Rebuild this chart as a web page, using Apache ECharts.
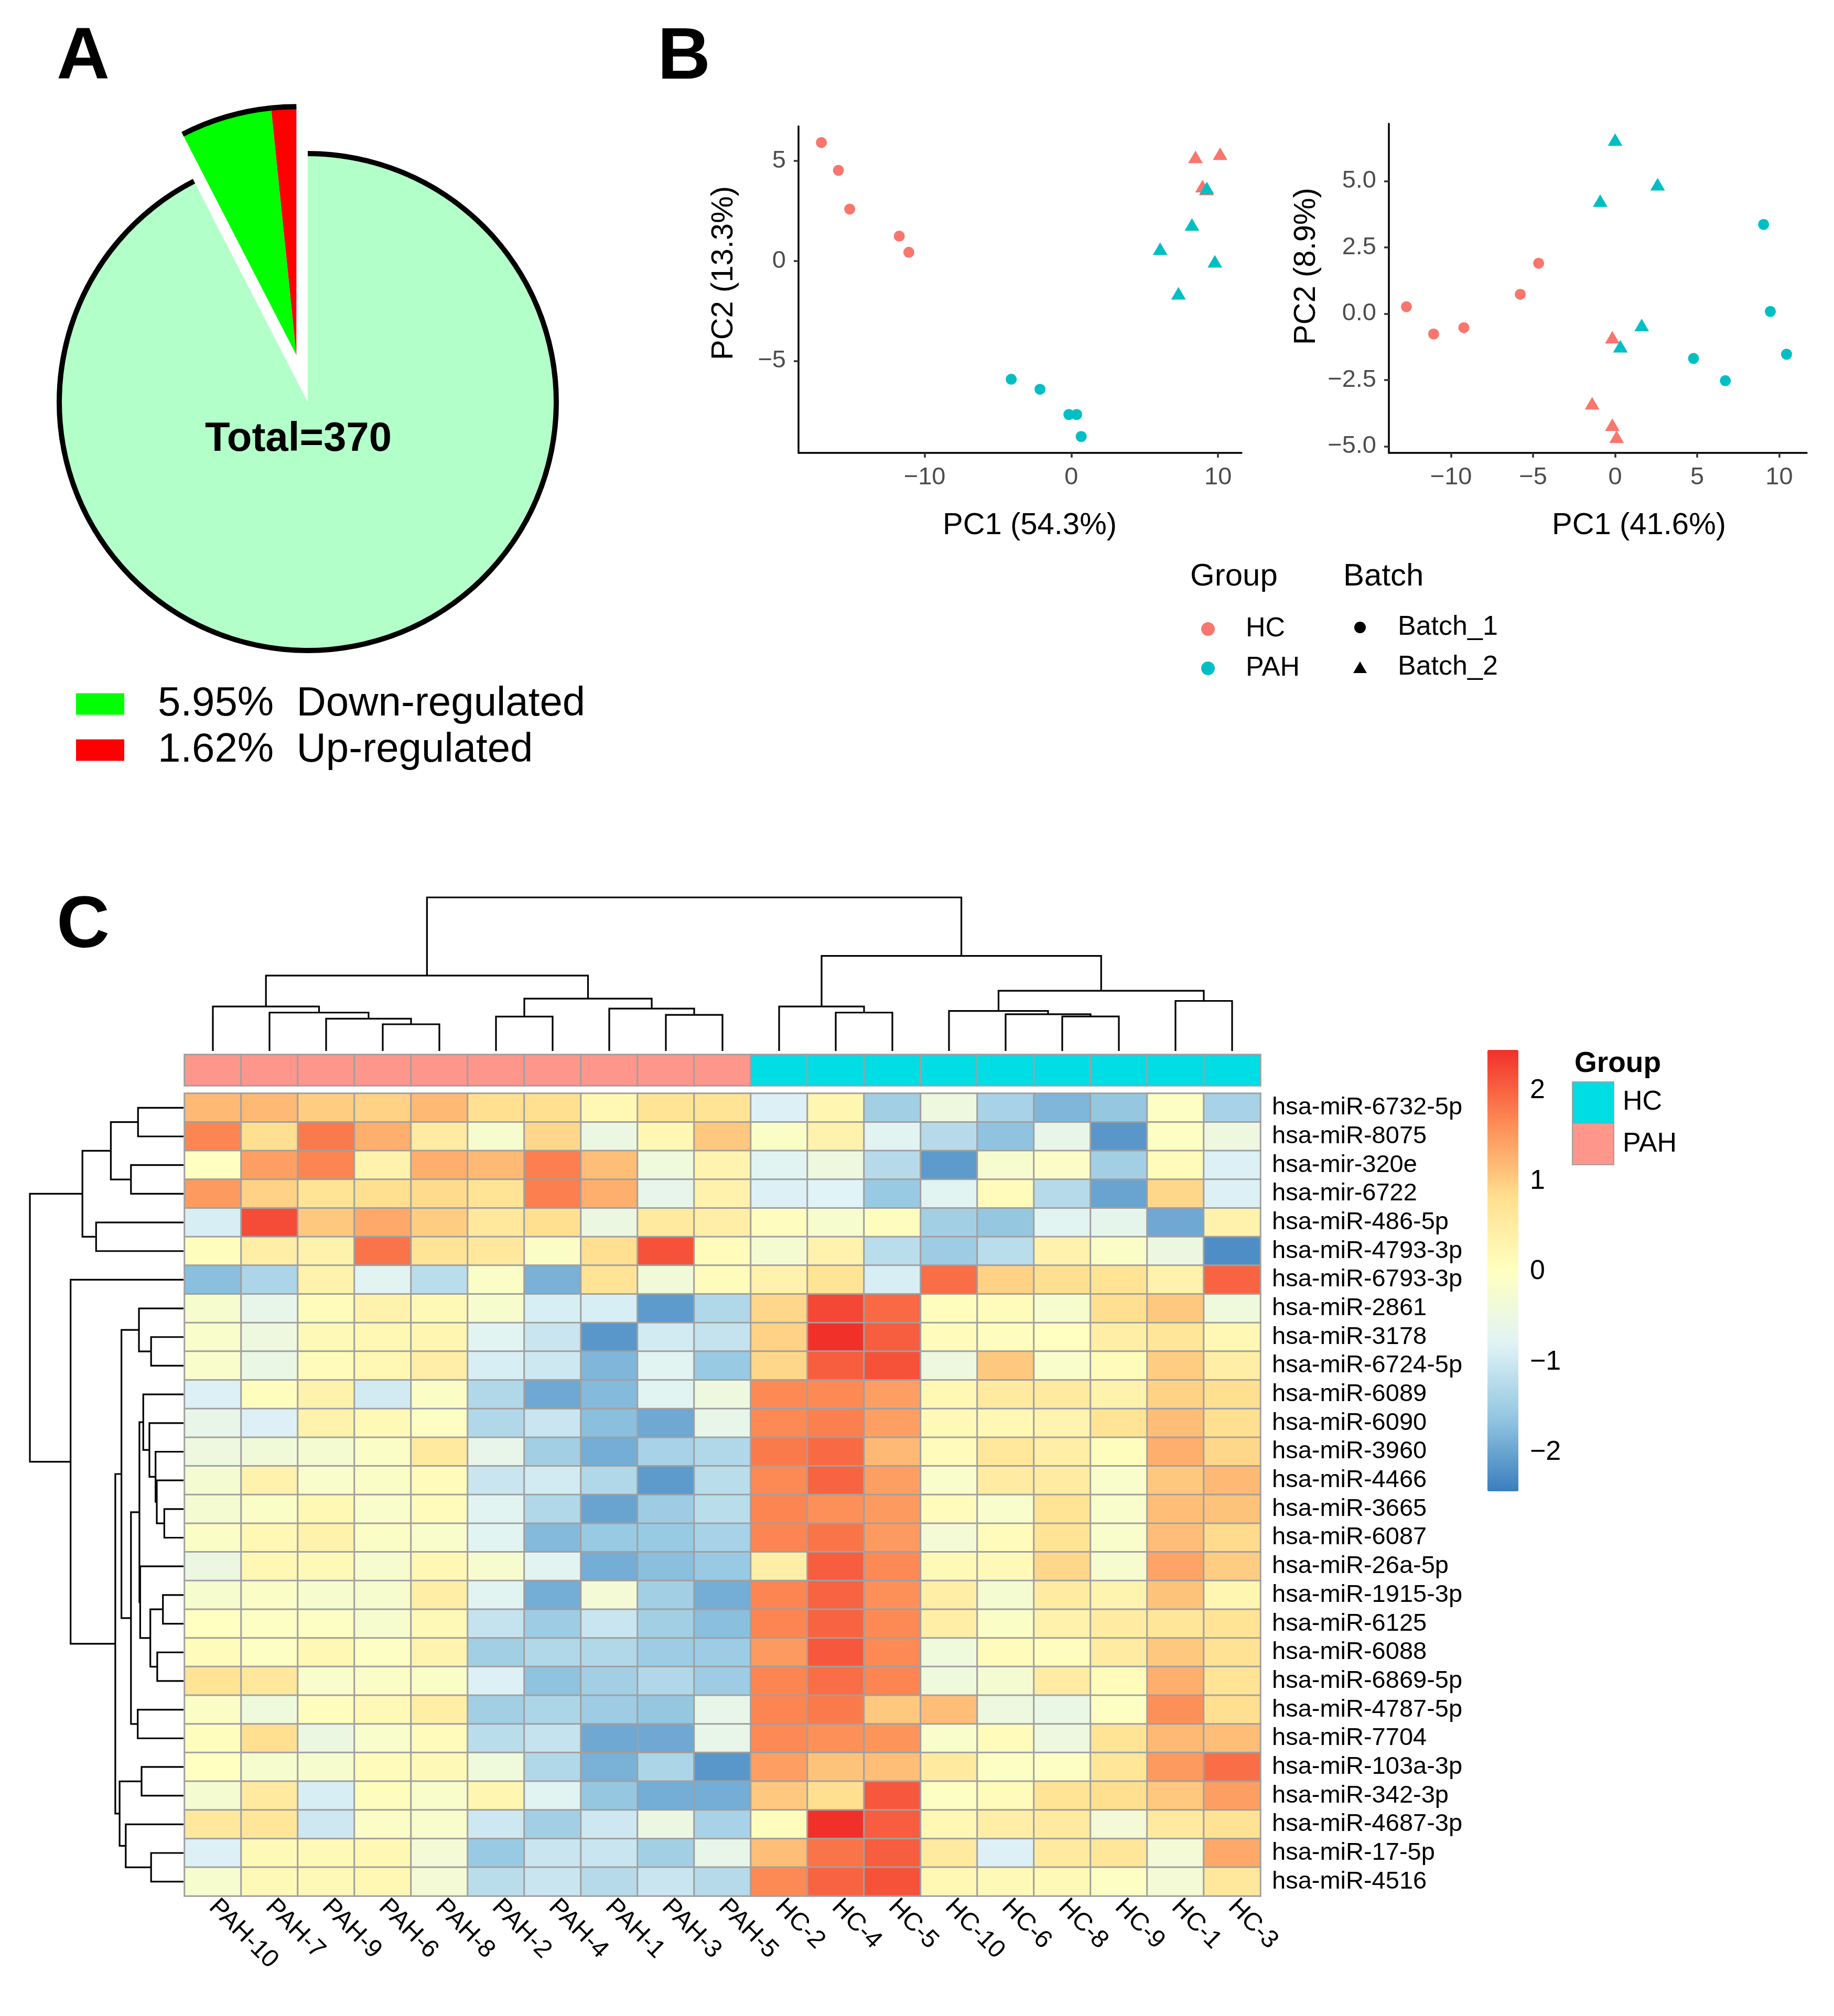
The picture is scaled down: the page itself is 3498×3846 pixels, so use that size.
<!DOCTYPE html>
<html><head><meta charset="utf-8">
<script src="https://cdn.jsdelivr.net/npm/echarts@6/dist/echarts.min.js"></script>
<style>html,body{margin:0;padding:0;background:#fff}#c{width:3498px;height:3846px}</style>
</head><body><div id="c"></div>
<script>
const FONT = "'Liberation Sans', Arial, Helvetica, sans-serif";

// ---------- Panel A data ----------
const pieNames = ['Unchanged', 'Down-regulated', 'Up-regulated'];
const pieCounts = [342, 22, 6];
const pieColors = ['#B3FFC9', '#00FF00', '#FF0000'];

// ---------- Panel B data (PCA) ----------
const pcaA_HC_b1 = [[-17.04,5.92],[-15.88,4.53],[-15.11,2.59],[-11.73,1.24],[-11.08,0.43]];
const pcaA_HC_b2 = [[8.46,5.20],[10.14,5.36],[8.94,3.74],[9.2,3.6]];
const pcaA_PAH_b1 = [[-4.10,-5.92],[-2.14,-6.42],[-0.17,-7.68],[0.36,-7.68],[0.67,-8.78]];
const pcaA_PAH_b2 = [[9.23,3.65],[8.22,1.82],[6.05,0.61],[9.78,-0.02],[7.30,-1.62]];
const pcaB_HC_b1 = [[-12.72,0.26],[-11.06,-0.77],[-9.22,-0.53],[-5.78,0.73],[-4.66,1.90]];
const pcaB_HC_b2 = [[-0.17,-0.89],[-1.40,-3.38],[-0.17,-4.19],[0.09,-4.64]];
const pcaB_PAH_b1 = [[9.05,3.36],[9.46,0.08],[4.78,-1.69],[6.72,-2.53],[10.45,-1.53]];
const pcaB_PAH_b2 = [[0.0,6.56],[2.59,4.88],[-0.91,4.26],[1.62,-0.43],[0.32,-1.23]];
const pcaA_xTicks = [-10, 0, 10];
const pcaA_yTicks = [-5, 0, 5];
const pcaB_xTicks = [-10, -5, 0, 5, 10];
const pcaB_yTicks = [-5, -2.5, 0, 2.5, 5];
const pcaA_titles = ['PC1 (54.3%)', 'PC2 (13.3%)'];
const pcaB_titles = ['PC1 (41.6%)', 'PC2 (8.9%)'];

// ---------- Panel C data (heatmap) ----------
const colNames = ['PAH-10','PAH-7','PAH-9','PAH-6','PAH-8','PAH-2','PAH-4','PAH-1','PAH-3','PAH-5',
                  'HC-2','HC-4','HC-5','HC-10','HC-6','HC-8','HC-9','HC-1','HC-3'];
const rowNames = ['hsa-miR-6732-5p','hsa-miR-8075','hsa-mir-320e','hsa-mir-6722','hsa-miR-486-5p',
  'hsa-miR-4793-3p','hsa-miR-6793-3p','hsa-miR-2861','hsa-miR-3178','hsa-miR-6724-5p','hsa-miR-6089',
  'hsa-miR-6090','hsa-miR-3960','hsa-miR-4466','hsa-miR-3665','hsa-miR-6087','hsa-miR-26a-5p',
  'hsa-miR-1915-3p','hsa-miR-6125','hsa-miR-6088','hsa-miR-6869-5p','hsa-miR-4787-5p','hsa-miR-7704',
  'hsa-miR-103a-3p','hsa-miR-342-3p','hsa-miR-4687-3p','hsa-miR-17-5p','hsa-miR-4516'];
const heatValues = [
 [1.2,1.2,1.0,0.95,1.2,0.8,0.8,0.2,0.7,0.7, -0.85,0.25,-1.45,-0.45,-1.4,-1.8,-1.6,-0.05,-1.4],
 [1.7,0.8,1.8,1.3,0.5,-0.2,0.9,-0.5,0.2,1.05, -0.1,0.35,-0.75,-1.25,-1.65,-0.6,-2.15,-0.05,-0.45],
 [0.0,1.45,1.7,0.35,1.3,1.2,1.75,1.15,-0.4,0.3, -0.75,-0.45,-1.25,-2.1,-0.2,-0.1,-1.45,0.1,-0.85],
 [1.5,0.95,0.7,0.8,0.85,0.7,1.75,1.3,-0.6,0.35, -0.85,-0.8,-1.55,-0.75,0.1,-1.25,-2.0,0.9,-0.85],
 [-0.9,2.2,1.05,1.35,1.0,0.6,0.8,-0.5,0.55,0.45, 0.05,-0.2,0.05,-1.45,-1.6,-0.75,-0.65,-1.95,0.35],
 [0.05,0.45,0.35,1.85,0.7,0.6,-0.1,0.8,2.15,0.1, -0.25,0.35,-1.2,-1.5,-1.2,0.35,-0.1,-0.5,-2.25],
 [-1.7,-1.35,0.35,-0.75,-1.2,-0.1,-1.85,0.7,-0.35,0.1, 0.35,0.7,-0.9,1.9,0.95,0.8,0.7,0.35,2.0],
 [-0.2,-0.6,0.1,0.35,0.15,-0.2,-0.9,-0.9,-2.1,-1.3, 0.9,2.25,1.95,0.05,0.1,-0.2,0.8,1.05,-0.4],
 [-0.15,-0.45,0.15,0.2,0.25,-0.75,-1.05,-2.15,-0.95,-1.1, 0.95,2.45,2.05,0.1,0.05,0.0,0.45,0.65,0.2],
 [-0.15,-0.55,0.1,0.2,0.45,-0.9,-1.0,-1.8,-0.75,-1.55, 0.9,2.05,2.15,-0.45,1.05,-0.15,0.1,1.0,0.45],
 [-0.85,0.05,0.35,-0.95,-0.1,-1.3,-1.95,-1.75,-0.75,-0.45, 1.65,1.65,1.45,0.2,0.55,0.55,0.35,0.95,0.8],
 [-0.6,-0.85,0.35,0.15,-0.05,-1.3,-1.05,-1.7,-1.95,-0.6, 1.65,1.75,1.45,0.15,0.2,0.3,0.7,1.15,0.8],
 [-0.45,-0.35,-0.25,-0.1,0.55,-0.6,-1.45,-1.9,-1.4,-1.3, 1.8,1.95,1.2,0.1,0.6,0.45,0.05,1.3,0.9],
 [-0.25,0.35,-0.15,-0.1,0.1,-1.05,-0.95,-1.3,-2.1,-1.2, 1.65,2.0,1.45,-0.15,0.5,0.5,-0.15,1.05,1.2],
 [-0.25,-0.1,0.2,-0.15,0.1,-0.75,-1.3,-2.0,-1.5,-1.2, 1.7,1.6,1.5,0.1,-0.15,0.7,-0.15,1.15,1.1],
 [-0.1,0.2,0.35,-0.1,-0.15,-0.75,-1.75,-1.55,-1.55,-1.4, 1.7,1.85,1.5,-0.3,0.1,0.7,-0.15,1.15,0.85],
 [-0.5,0.2,0.15,-0.2,0.2,-0.2,-0.75,-1.9,-1.7,-1.55, 0.45,2.05,1.65,0.15,0.15,0.9,-0.2,1.4,1.0],
 [-0.2,-0.1,-0.2,-0.2,0.45,-0.75,-1.9,-0.3,-1.45,-1.9, 1.7,2.0,1.6,0.45,-0.25,0.5,0.3,1.1,0.25],
 [0.0,-0.05,-0.05,-0.2,0.15,-1.1,-1.5,-1.05,-1.45,-1.7, 1.7,2.0,1.65,0.45,-0.1,0.35,0.5,0.65,0.7],
 [0.1,-0.05,0.2,-0.05,0.3,-1.45,-1.3,-1.3,-1.5,-1.5, 1.5,2.1,1.65,-0.4,0.1,0.05,0.5,1.05,0.75],
 [0.7,0.6,-0.15,-0.1,-0.1,-0.85,-1.65,-1.45,-1.3,-1.5, 1.7,1.9,1.7,-0.4,-0.25,0.5,0.1,1.3,0.7],
 [-0.1,-0.4,0.05,0.15,0.45,-1.45,-1.35,-1.5,-1.6,-0.6, 1.7,1.8,1.05,1.15,-0.45,-0.55,-0.05,1.6,0.8],
 [0.05,0.8,-0.5,-0.15,0.1,-1.2,-1.1,-1.95,-1.95,-0.6, 1.65,1.6,1.55,-0.15,0.1,-0.45,0.7,1.2,1.15],
 [0.0,-0.2,-0.2,0.1,0.15,-0.4,-1.3,-1.85,-1.35,-2.15, 1.45,1.1,1.15,0.55,-0.05,-0.05,0.65,1.5,1.9],
 [-0.25,0.55,-0.9,0.05,-0.15,0.25,-0.75,-1.6,-1.9,-1.9, 1.05,0.8,2.1,-0.05,0.1,0.7,0.8,1.05,1.45],
 [0.6,0.65,-1.0,-0.1,-0.15,-1.0,-1.45,-1.0,-0.5,-1.4, 0.05,2.45,2.05,0.2,0.45,0.55,-0.3,0.55,0.75],
 [-0.85,0.15,0.15,0.2,-0.3,-1.55,-1.05,-1.05,-1.45,-0.6, 1.15,1.85,2.05,0.55,-0.85,0.55,0.65,-0.3,1.35],
 [-0.2,0.15,0.15,0.2,-0.3,-1.2,-1.05,-1.25,-1.05,-1.25, 1.65,2.0,2.15,0.2,0.15,0.15,-0.05,-0.3,0.6]
];
const colorbarTicks = [-2, -1, 0, 1, 2];
const heatMin = -2.43, heatMax = 2.45;
// hclust-style merges: negative = leaf (1-based position), positive = earlier merge (1-based)
const colMerges = [
 [-4,-5,1.74],[-3,1,2.10],[-2,2,2.50],[-1,3,2.90],[-6,-7,2.24],[-9,-10,2.35],[-8,6,2.76],
 [5,7,3.41],[4,8,4.91],[-12,-13,2.50],[-11,10,2.90],[-16,-17,2.25],[-15,12,2.39],[-14,13,2.61],
 [-18,-19,3.26],[14,15,3.92],[11,16,6.19],[9,17,10]
];
const rowMerges = [
 [-1,-2,2.96],[-3,-4,3.42],[1,2,4.73],[-5,-6,5.69],[3,4,6.58],[-9,-10,2.11],[-8,6,2.90],
 [-15,-16,1.25],[-14,8,1.74],[-13,9,1.82],[-12,10,2.22],[-11,11,2.62],[-18,-19,1.34],[-20,-21,1.71],
 [13,14,2.16],[-17,15,2.82],[12,16,2.87],[-22,-23,2.98],[17,18,3.42],[7,19,4.04],[-24,-25,2.73],
 [-27,-28,2.11],[-26,22,3.76],[21,23,4.16],[20,24,4.44],[-7,25,7.35],[5,26,10]
];

// ---------- styles ----------
const HC_PCA = '#F8766D', PAH_PCA = '#00BFC4';
const HC_ANNO = '#00DDE5', PAH_ANNO = '#FF968C';
const heatPalette = ['#3A7EBF','#93C6E1','#E0F3F6','#FFFFC0','#FFDF8F','#FD8C55','#F2302A'];
const minus = v => (v < 0 ? '\u2212' : '') + Math.abs(v);
const minus1 = v => (v < 0 ? '\u2212' : '') + Math.abs(v).toFixed(1);

// ---------- derived ----------
const total = pieCounts.reduce((a, b) => a + b, 0);
const pct = name => (pieCounts[pieNames.indexOf(name)] / total * 100).toFixed(2) + '%';
const pieCenter = [587, 767], pieR = 474, explode = 92;
const explFrac = (pieCounts[1] + pieCounts[2]) / total;
const explAng = explFrac * Math.PI; // half of the exploded wedge angle
const pieCenter2 = [pieCenter[0] - explode * Math.sin(explAng), pieCenter[1] - explode * Math.cos(explAng)];

function dendroLinks(merges) {
  const pos = [], hgt = [], links = [];
  const get = r => r < 0 ? [-r - 1, 0] : [pos[r - 1], hgt[r - 1]];
  merges.forEach(([a, b, h], i) => {
    const [pa, ha] = get(a), [pb, hb] = get(b);
    pos[i] = (pa + pb) / 2; hgt[i] = h;
    links.push([pa, ha, pb, hb, h]);
  });
  return links;
}

const heatData = [];
heatValues.forEach((row, r) => row.forEach((v, c) => heatData.push([c, r, v])));
const annoData = colNames.map((n, i) => [i, 0, n.startsWith('HC') ? 1 : 0]);

function pieSeries(center, radius, visibleIdx, colorFn) {
  return {
    type: 'pie', center: center, radius: radius, startAngle: 90, clockwise: true,
    silent: true, label: { show: false }, labelLine: { show: false },
    itemStyle: { borderWidth: 0 }, emphasis: { disabled: true },
    data: pieNames.map((n, i) => ({
      name: n, value: pieCounts[i],
      itemStyle: { color: visibleIdx.includes(i) ? colorFn(i) : 'rgba(0,0,0,0)', borderWidth: 0 }
    }))
  };
}

const axisLineStyle = { show: true, onZero: false, lineStyle: { color: '#000', width: 3.5 } };
function pcaAxes(gi, xmin, xmax, ymin, ymax, xt, yt, yfmt) {
  return {
    x: { type: 'value', gridIndex: gi, min: xmin, max: xmax, axisLine: axisLineStyle,
      axisTick: { show: true, length: 9, customValues: xt, lineStyle: { color: '#333', width: 3.5 } },
      axisLabel: { customValues: xt, formatter: minus, color: '#4D4D4D', fontSize: 47, fontFamily: FONT, margin: 24 },
      splitLine: { show: false } },
    y: { type: 'value', gridIndex: gi, min: ymin, max: ymax, axisLine: axisLineStyle,
      axisTick: { show: true, length: 9, customValues: yt, lineStyle: { color: '#333', width: 3.5 } },
      axisLabel: { customValues: yt, formatter: yfmt, color: '#4D4D4D', fontSize: 47, fontFamily: FONT, margin: 24 },
      splitLine: { show: false } }
  };
}
const axA = pcaAxes(0, -18.6, 11.6, -9.6, 6.73, pcaA_xTicks, pcaA_yTicks, minus);
const axB = pcaAxes(1, -13.79, 11.68, -5.25, 7.16, pcaB_xTicks, pcaB_yTicks, minus1);

function scat(xi, data, color, tri) {
  return { type: 'scatter', xAxisIndex: xi, yAxisIndex: xi, data: data, silent: true,
    symbol: tri ? 'triangle' : 'circle', symbolSize: tri ? [28, 24] : 21,
    itemStyle: { color: color, opacity: 1 } };
}

function dendroRender(horizontal) {
  return function (params, api) {
    const v = i => api.value(i);
    const pt = (p, h) => horizontal ? api.coord([h, p]) : api.coord([p, h]);
    const pts = [pt(v(0), v(1)), pt(v(0), v(4)), pt(v(2), v(4)), pt(v(2), v(3))];
    return { type: 'polyline', shape: { points: pts }, style: { stroke: '#000', lineWidth: 3.2, fill: null } };
  };
}

const G = { left: 352, top: 2086, width: 2052, height: 1531 };

const txt = (text, x, y, size, opts = {}) => ({
  type: 'text', x: x, y: y, rotation: opts.rot || 0, silent: true, z: 100, zlevel: 0,
  style: { text: text, fontSize: size, fontFamily: FONT, fontWeight: opts.bold ? 'bold' : 'normal',
    fill: opts.color || '#000', align: opts.align || 'left', textAlign: opts.align || 'left',
    verticalAlign: 'middle', textVerticalAlign: 'middle' }
});
const tri = (cx, cy, w, h, fill) => ({ type: 'polygon', silent: true, z: 100,
  shape: { points: [[cx, cy - h / 2], [cx + w / 2, cy + h / 2], [cx - w / 2, cy + h / 2]] }, style: { fill: fill } });

const option = {
  animation: false,
  backgroundColor: '#fff',
  grid: [
    { left: 1523, top: 241, width: 845, height: 623 },
    { left: 2649, top: 236, width: 797, height: 628 },
    { left: G.left, top: G.top, width: G.width, height: G.height },
    { left: G.left, top: 2012, width: G.width, height: 59 },
    { left: G.left, top: 1712, width: G.width, height: 293 },
    { left: 57, top: G.top, width: 293, height: G.height },
    { left: 2837, top: 2003, width: 59, height: 842 }
  ],
  xAxis: [
    axA.x, axB.x,
    { type: 'category', gridIndex: 2, data: colNames, position: 'bottom', axisLine: { show: false }, axisTick: { show: false },
      axisLabel: { interval: 0, rotate: -45, fontSize: 48, fontFamily: FONT, color: '#000', margin: 14 }, splitLine: { show: false } },
    { type: 'category', gridIndex: 3, data: colNames, show: false },
    { type: 'value', gridIndex: 4, min: -0.5, max: colNames.length - 0.5, show: false },
    { type: 'value', gridIndex: 5, min: 0, max: 10, inverse: true, show: false },
    { type: 'value', gridIndex: 6, min: 0, max: 1, show: false }
  ],
  yAxis: [
    axA.y, axB.y,
    { type: 'category', gridIndex: 2, data: rowNames, inverse: true, position: 'right', axisLine: { show: false }, axisTick: { show: false },
      axisLabel: { interval: 0, fontSize: 47, fontFamily: FONT, color: '#000', margin: 22 }, splitLine: { show: false } },
    { type: 'category', gridIndex: 3, data: ['Group'], show: false },
    { type: 'value', gridIndex: 4, min: 0, max: 10, show: false },
    { type: 'value', gridIndex: 5, min: -0.5, max: rowNames.length - 0.5, inverse: true, show: false },
    { type: 'value', gridIndex: 6, min: heatMin, max: heatMax, position: 'right', axisLine: { show: false }, axisTick: { show: false },
      splitLine: { show: false },
      axisLabel: { customValues: colorbarTicks, formatter: minus, fontSize: 52, fontFamily: FONT, color: '#000', margin: 22 } }
  ],
  visualMap: [
    { type: 'continuous', seriesIndex: 12, min: heatMin, max: heatMax, inRange: { color: heatPalette },
      left: 2837, top: 2003, itemWidth: 59, itemHeight: 842, calculable: false, padding: 0, hoverLink: false,
      textStyle: { fontSize: 1, color: 'rgba(0,0,0,0)' } },
    { type: 'piecewise', seriesIndex: 13, show: false,
      pieces: [{ value: 0, color: PAH_ANNO }, { value: 1, color: HC_ANNO }] }
  ],
  legend: [{
    data: [
      { name: 'Down-regulated', icon: 'rect', itemStyle: { color: pieColors[1], borderWidth: 0 } },
      { name: 'Up-regulated', icon: 'rect', itemStyle: { color: pieColors[2], borderWidth: 0 } }
    ],
    orient: 'vertical', left: 145, top: 1304, itemWidth: 92, itemHeight: 41, itemGap: 10, padding: 0,
    selectedMode: false,
    formatter: name => pct(name) + '  ' + name,
    textStyle: { fontSize: 78, fontFamily: FONT, color: '#000', padding: [0, 0, 0, 59] }
  }],
  series: [
    pieSeries(pieCenter2, [0, pieR], [1, 2], i => pieColors[i]),
    pieSeries(pieCenter, [0, pieR], [0], i => pieColors[i]),
    pieSeries(pieCenter2, [pieR - 5, pieR + 5], [1, 2], () => '#000'),
    pieSeries(pieCenter, [pieR - 5, pieR + 5], [0], () => '#000'),
    scat(0, pcaA_HC_b1, HC_PCA, false), scat(0, pcaA_HC_b2, HC_PCA, true),
    scat(0, pcaA_PAH_b1, PAH_PCA, false), scat(0, pcaA_PAH_b2, PAH_PCA, true),
    scat(1, pcaB_HC_b1, HC_PCA, false), scat(1, pcaB_HC_b2, HC_PCA, true),
    scat(1, pcaB_PAH_b1, PAH_PCA, false), scat(1, pcaB_PAH_b2, PAH_PCA, true),
    { type: 'heatmap', xAxisIndex: 2, yAxisIndex: 2, data: heatData, silent: true,
      itemStyle: { borderColor: '#A0A0A0', borderWidth: 3 }, emphasis: { disabled: true } },
    { type: 'heatmap', xAxisIndex: 3, yAxisIndex: 3, data: annoData, silent: true,
      itemStyle: { borderColor: '#A0A0A0', borderWidth: 3 }, emphasis: { disabled: true } },
    { type: 'custom', xAxisIndex: 4, yAxisIndex: 4, data: dendroLinks(colMerges), silent: true, renderItem: dendroRender(false) },
    { type: 'custom', xAxisIndex: 5, yAxisIndex: 5, data: dendroLinks(rowMerges), silent: true, renderItem: dendroRender(true) }
  ],
  graphic: {
    elements: [
      txt('A', 108, 111, 140, { bold: true }),
      txt('B', 1254, 111, 140, { bold: true }),
      txt('C', 108, 1768, 140, { bold: true }),
      txt('Total=' + total, 569, 838, 78, { bold: true, align: 'center' }),
      txt(pcaA_titles[0], 1964, 1003, 58, { align: 'center' }),
      txt(pcaA_titles[1], 1381, 521, 58, { align: 'center', rot: Math.PI / 2 }),
      txt(pcaB_titles[0], 3126, 1003, 58, { align: 'center' }),
      txt(pcaB_titles[1], 2492, 508, 58, { align: 'center', rot: Math.PI / 2 }),
      txt('Group', 2270, 1100, 60),
      txt('Batch', 2562, 1100, 60),
      { type: 'circle', silent: true, z: 100, shape: { cx: 2304, cy: 1200, r: 13 }, style: { fill: HC_PCA } },
      { type: 'circle', silent: true, z: 100, shape: { cx: 2304, cy: 1275, r: 13 }, style: { fill: PAH_PCA } },
      txt('HC', 2376, 1200, 52),
      txt('PAH', 2376, 1275, 52),
      { type: 'circle', silent: true, z: 100, shape: { cx: 2594, cy: 1197, r: 11 }, style: { fill: '#000' } },
      tri(2594, 1273, 26, 22, '#000'),
      txt('Batch_1', 2666, 1197, 52),
      txt('Batch_2', 2666, 1273, 52),
      txt('Group', 3003, 2030, 55, { bold: true }),
      { type: 'rect', silent: true, z: 100, shape: { x: 2999, y: 2064, width: 79, height: 79 }, style: { fill: HC_ANNO, stroke: '#A0A0A0', lineWidth: 2 } },
      { type: 'rect', silent: true, z: 100, shape: { x: 2999, y: 2143, width: 79, height: 79 }, style: { fill: PAH_ANNO, stroke: '#A0A0A0', lineWidth: 2 } },
      txt('HC', 3095, 2103, 52),
      txt('PAH', 3095, 2183, 52)
    ]
  }
};

const chart = echarts.init(document.getElementById('c'), null, { renderer: 'canvas', width: 3498, height: 3846 });
chart.setOption(option);
</script>
</body></html>
